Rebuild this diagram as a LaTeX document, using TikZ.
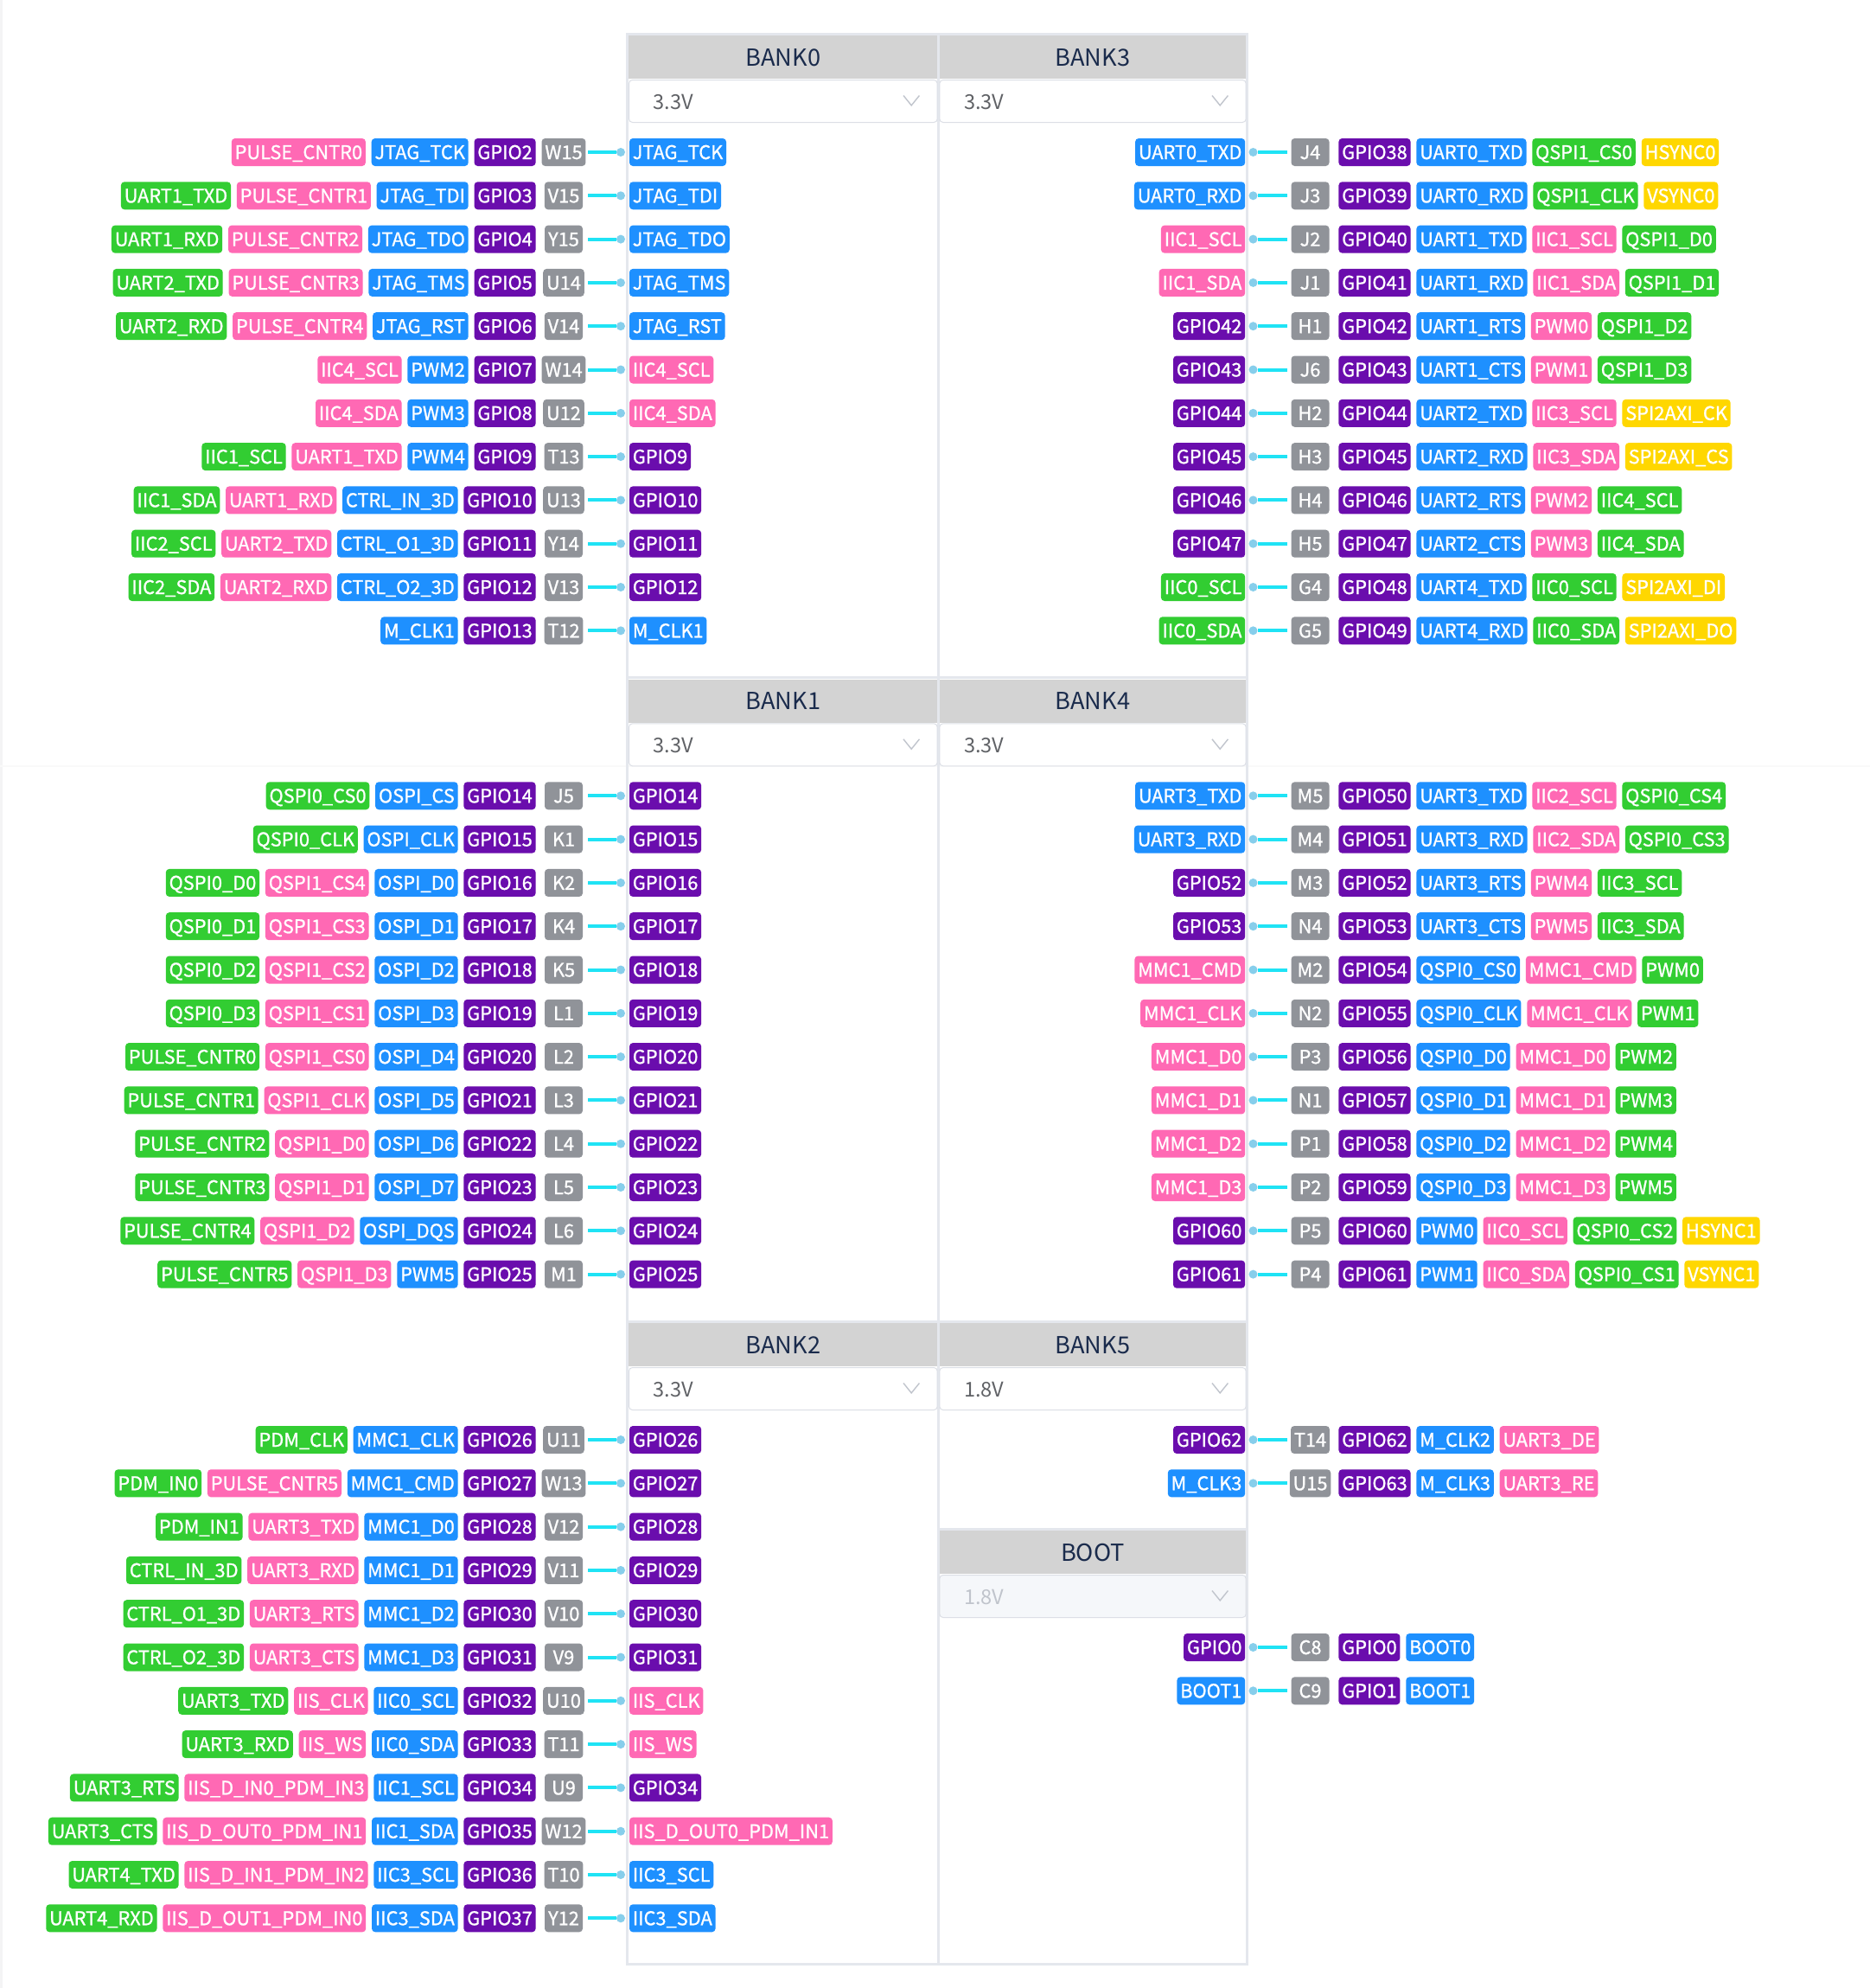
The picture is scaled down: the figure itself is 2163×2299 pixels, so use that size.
\documentclass[tikz,border=0pt]{standalone}
\usepackage{fontspec}
\setmainfont{Noto Sans CJK SC}
\newfontfamily\tagfont{Noto Sans CJK SC}[FakeBold=1]
\usetikzlibrary{positioning}

\definecolor{cblue}{HTML}{1E90FF}
\definecolor{cpink}{HTML}{FF69B4}
\definecolor{cgreen}{HTML}{32CD32}
\definecolor{cvio}{HTML}{6A0DAD}
\definecolor{cgray}{HTML}{909399}
\definecolor{cyel}{HTML}{FFD700}
\definecolor{cwire}{HTML}{1FE3F5}
\definecolor{cdot}{HTML}{87CEEB}
\definecolor{cframe}{HTML}{E4E7ED}
\definecolor{chead}{HTML}{D3D3D3}
\definecolor{cnavy}{HTML}{1A2B4C}
\definecolor{cborder}{HTML}{DCDFE6}
\definecolor{cvolt}{HTML}{606266}
\definecolor{cchev}{HTML}{C0C4CC}
\definecolor{cdis}{HTML}{F5F7FA}
\definecolor{cstrip}{HTML}{F4F4F5}
\definecolor{cfaint}{HTML}{F9F9F9}

\tikzset{
  tag/.style={fill=#1, text=white, rounded corners=2pt, font=\tagfont\fontsize{10.9}{13}\selectfont,
    inner xsep=1.9pt, inner ysep=0pt, text height=8pt, text depth=0pt, minimum height=16pt},
  pinbox/.style={tag=cgray, minimum width=22pt},
  dot/.style={circle, fill=cdot, inner sep=0pt, minimum size=5pt},
  wire/.style={cwire, line width=2pt},
  bankhd/.style={fill=chead, text=cnavy, font=\fontsize{13.6}{16}\selectfont, anchor=north west,
    minimum height=25pt, inner sep=0pt},
  volt/.style={draw=cborder, line width=.5pt, fill=white, rounded corners=2pt, anchor=north west,
    minimum height=24.5pt, inner sep=0pt},
  volttxt/.style={text=cvolt, font=\fontsize{11.8}{14}\selectfont, anchor=base west, inner sep=0pt},
  dis/.style={fill=cdis, text=cchev},
  chev/.style={cchev, line width=.7pt},
  frame/.style={cframe, line width=1.5pt}
}

% header + voltage box of one bank
\newcommand{\bankhead}[7][]{%
  \node[bankhd, minimum width=#5] (#2) at (#3,#4) {#6};
  \node[volt, minimum width=#5, #1] (#2v) at (#3,#4+51) {};
  \node[volttxt, #1] (#2t) at (#3+28.3,#4+85) {#7};
  \draw[chev] (#2v.east) ++(-39.7,-6.5) -- ++(9.2,11.4) -- ++(9.2,-11.4);
}
% pin row on the left side
\newcommand{\lrow}[7]{%
  \node[pinbox] (#1p) at (652,#2) {#3};
  \node[tag=cvio, anchor=east] (#1-0) at (620,#2) {#4};
  \foreach \col/\lbl [count=\i, remember=\i as \j (initially 0)] in {#7}
    {\node[tag=\col, left=3pt of #1-\j] (#1-\i) {\lbl};}
  \node[tag=#5, anchor=west] (#1i) at (727.6,#2) {#6};
  \node[dot] (#1d) at (718,#2) {};
  \coordinate (#1e) at (680,#2);
  \draw[wire] (#1e) -- (#1d);
}
% pin row on the right side
\newcommand{\rrow}[7]{%
  \node[tag=#5, anchor=east] (#1i) at (1440.6,#2) {#6};
  \node[dot] (#1d) at (1449.5,#2) {};
  \coordinate (#1e) at (1489,#2);
  \draw[wire] (#1d) -- (#1e);
  \node[pinbox] (#1p) at (1515.5,#2) {#3};
  \node[tag=cvio, anchor=west] (#1-0) at (1548,#2) {#4};
  \foreach \col/\lbl [count=\i, remember=\i as \j (initially 0)] in {#7}
    {\node[tag=\col, right=3pt of #1-\j] (#1-\i) {\lbl};}
}

\begin{document}
\begin{tikzpicture}[x=0.5pt, y=-0.5pt]
\useasboundingbox (0,0) rectangle (2163,2299);
\fill[white] (0,0) rectangle (2163,2299);
\fill[cstrip] (0,0) rectangle (3,2299);
\draw[cfaint, line width=.75pt] (0,886) -- (2163,886);
% frame
\draw[frame] (725.5,39.5) rectangle (1442.2,2271.3);
\draw[frame] (1085,39.5) -- (1085,2271.3);
\draw[frame] (725.5,783.5) -- (1442.2,783.5);
\draw[frame] (725.5,1528.5) -- (1442.2,1528.5);
\draw[frame] (1085,1768.5) -- (1442.2,1768.5);
% banks
\bankhead{bank0}{727}{41}{178.35pt}{BANK0}{3.3V}
\bankhead{bank3}{1086.3}{41}{177.2pt}{BANK3}{3.3V}
\bankhead{bank1}{727}{785.3}{178.35pt}{BANK1}{3.3V}
\bankhead{bank4}{1086.3}{785.3}{177.2pt}{BANK4}{3.3V}
\bankhead{bank2}{727}{1530}{178.35pt}{BANK2}{3.3V}
\bankhead{bank5}{1086.3}{1530}{177.2pt}{BANK5}{1.8V}
\bankhead[dis]{boot}{1086.3}{1770}{177.2pt}{BOOT}{1.8V}
% BANK0
\lrow{g2}{176}{W15}{GPIO2}{cblue}{JTAG\_TCK}{cblue/JTAG\_TCK, cpink/PULSE\_CNTR0}
\lrow{g3}{226.3}{V15}{GPIO3}{cblue}{JTAG\_TDI}{cblue/JTAG\_TDI, cpink/PULSE\_CNTR1, cgreen/UART1\_TXD}
\lrow{g4}{276.6}{Y15}{GPIO4}{cblue}{JTAG\_TDO}{cblue/JTAG\_TDO, cpink/PULSE\_CNTR2, cgreen/UART1\_RXD}
\lrow{g5}{326.9}{U14}{GPIO5}{cblue}{JTAG\_TMS}{cblue/JTAG\_TMS, cpink/PULSE\_CNTR3, cgreen/UART2\_TXD}
\lrow{g6}{377.2}{V14}{GPIO6}{cblue}{JTAG\_RST}{cblue/JTAG\_RST, cpink/PULSE\_CNTR4, cgreen/UART2\_RXD}
\lrow{g7}{427.5}{W14}{GPIO7}{cpink}{IIC4\_SCL}{cblue/PWM2, cpink/IIC4\_SCL}
\lrow{g8}{477.8}{U12}{GPIO8}{cpink}{IIC4\_SDA}{cblue/PWM3, cpink/IIC4\_SDA}
\lrow{g9}{528.1}{T13}{GPIO9}{cvio}{GPIO9}{cblue/PWM4, cpink/UART1\_TXD, cgreen/IIC1\_SCL}
\lrow{g10}{578.4}{U13}{GPIO10}{cvio}{GPIO10}{cblue/CTRL\_IN\_3D, cpink/UART1\_RXD, cgreen/IIC1\_SDA}
\lrow{g11}{628.7}{Y14}{GPIO11}{cvio}{GPIO11}{cblue/CTRL\_O1\_3D, cpink/UART2\_TXD, cgreen/IIC2\_SCL}
\lrow{g12}{679}{V13}{GPIO12}{cvio}{GPIO12}{cblue/CTRL\_O2\_3D, cpink/UART2\_RXD, cgreen/IIC2\_SDA}
\lrow{g13}{729.3}{T12}{GPIO13}{cblue}{M\_CLK1}{cblue/M\_CLK1}
% BANK1
\lrow{g14}{920.3}{J5}{GPIO14}{cvio}{GPIO14}{cblue/OSPI\_CS, cgreen/QSPI0\_CS0}
\lrow{g15}{970.6}{K1}{GPIO15}{cvio}{GPIO15}{cblue/OSPI\_CLK, cgreen/QSPI0\_CLK}
\lrow{g16}{1020.9}{K2}{GPIO16}{cvio}{GPIO16}{cblue/OSPI\_D0, cpink/QSPI1\_CS4, cgreen/QSPI0\_D0}
\lrow{g17}{1071.2}{K4}{GPIO17}{cvio}{GPIO17}{cblue/OSPI\_D1, cpink/QSPI1\_CS3, cgreen/QSPI0\_D1}
\lrow{g18}{1121.5}{K5}{GPIO18}{cvio}{GPIO18}{cblue/OSPI\_D2, cpink/QSPI1\_CS2, cgreen/QSPI0\_D2}
\lrow{g19}{1171.8}{L1}{GPIO19}{cvio}{GPIO19}{cblue/OSPI\_D3, cpink/QSPI1\_CS1, cgreen/QSPI0\_D3}
\lrow{g20}{1222.1}{L2}{GPIO20}{cvio}{GPIO20}{cblue/OSPI\_D4, cpink/QSPI1\_CS0, cgreen/PULSE\_CNTR0}
\lrow{g21}{1272.4}{L3}{GPIO21}{cvio}{GPIO21}{cblue/OSPI\_D5, cpink/QSPI1\_CLK, cgreen/PULSE\_CNTR1}
\lrow{g22}{1322.7}{L4}{GPIO22}{cvio}{GPIO22}{cblue/OSPI\_D6, cpink/QSPI1\_D0, cgreen/PULSE\_CNTR2}
\lrow{g23}{1373}{L5}{GPIO23}{cvio}{GPIO23}{cblue/OSPI\_D7, cpink/QSPI1\_D1, cgreen/PULSE\_CNTR3}
\lrow{g24}{1423.3}{L6}{GPIO24}{cvio}{GPIO24}{cblue/OSPI\_DQS, cpink/QSPI1\_D2, cgreen/PULSE\_CNTR4}
\lrow{g25}{1473.6}{M1}{GPIO25}{cvio}{GPIO25}{cblue/PWM5, cpink/QSPI1\_D3, cgreen/PULSE\_CNTR5}
% BANK2
\lrow{g26}{1665}{U11}{GPIO26}{cvio}{GPIO26}{cblue/MMC1\_CLK, cgreen/PDM\_CLK}
\lrow{g27}{1715.3}{W13}{GPIO27}{cvio}{GPIO27}{cblue/MMC1\_CMD, cpink/PULSE\_CNTR5, cgreen/PDM\_IN0}
\lrow{g28}{1765.6}{V12}{GPIO28}{cvio}{GPIO28}{cblue/MMC1\_D0, cpink/UART3\_TXD, cgreen/PDM\_IN1}
\lrow{g29}{1815.9}{V11}{GPIO29}{cvio}{GPIO29}{cblue/MMC1\_D1, cpink/UART3\_RXD, cgreen/CTRL\_IN\_3D}
\lrow{g30}{1866.2}{V10}{GPIO30}{cvio}{GPIO30}{cblue/MMC1\_D2, cpink/UART3\_RTS, cgreen/CTRL\_O1\_3D}
\lrow{g31}{1916.5}{V9}{GPIO31}{cvio}{GPIO31}{cblue/MMC1\_D3, cpink/UART3\_CTS, cgreen/CTRL\_O2\_3D}
\lrow{g32}{1966.8}{U10}{GPIO32}{cpink}{IIS\_CLK}{cblue/IIC0\_SCL, cpink/IIS\_CLK, cgreen/UART3\_TXD}
\lrow{g33}{2017.1}{T11}{GPIO33}{cpink}{IIS\_WS}{cblue/IIC0\_SDA, cpink/IIS\_WS, cgreen/UART3\_RXD}
\lrow{g34}{2067.4}{U9}{GPIO34}{cvio}{GPIO34}{cblue/IIC1\_SCL, cpink/IIS\_D\_IN0\_PDM\_IN3, cgreen/UART3\_RTS}
\lrow{g35}{2117.7}{W12}{GPIO35}{cpink}{IIS\_D\_OUT0\_PDM\_IN1}{cblue/IIC1\_SDA, cpink/IIS\_D\_OUT0\_PDM\_IN1, cgreen/UART3\_CTS}
\lrow{g36}{2168}{T10}{GPIO36}{cblue}{IIC3\_SCL}{cblue/IIC3\_SCL, cpink/IIS\_D\_IN1\_PDM\_IN2, cgreen/UART4\_TXD}
\lrow{g37}{2218.3}{Y12}{GPIO37}{cblue}{IIC3\_SDA}{cblue/IIC3\_SDA, cpink/IIS\_D\_OUT1\_PDM\_IN0, cgreen/UART4\_RXD}
% BANK3
\rrow{g38}{176}{J4}{GPIO38}{cblue}{UART0\_TXD}{cblue/UART0\_TXD, cgreen/QSPI1\_CS0, cyel/HSYNC0}
\rrow{g39}{226.3}{J3}{GPIO39}{cblue}{UART0\_RXD}{cblue/UART0\_RXD, cgreen/QSPI1\_CLK, cyel/VSYNC0}
\rrow{g40}{276.6}{J2}{GPIO40}{cpink}{IIC1\_SCL}{cblue/UART1\_TXD, cpink/IIC1\_SCL, cgreen/QSPI1\_D0}
\rrow{g41}{326.9}{J1}{GPIO41}{cpink}{IIC1\_SDA}{cblue/UART1\_RXD, cpink/IIC1\_SDA, cgreen/QSPI1\_D1}
\rrow{g42}{377.2}{H1}{GPIO42}{cvio}{GPIO42}{cblue/UART1\_RTS, cpink/PWM0, cgreen/QSPI1\_D2}
\rrow{g43}{427.5}{J6}{GPIO43}{cvio}{GPIO43}{cblue/UART1\_CTS, cpink/PWM1, cgreen/QSPI1\_D3}
\rrow{g44}{477.8}{H2}{GPIO44}{cvio}{GPIO44}{cblue/UART2\_TXD, cpink/IIC3\_SCL, cyel/SPI2AXI\_CK}
\rrow{g45}{528.1}{H3}{GPIO45}{cvio}{GPIO45}{cblue/UART2\_RXD, cpink/IIC3\_SDA, cyel/SPI2AXI\_CS}
\rrow{g46}{578.4}{H4}{GPIO46}{cvio}{GPIO46}{cblue/UART2\_RTS, cpink/PWM2, cgreen/IIC4\_SCL}
\rrow{g47}{628.7}{H5}{GPIO47}{cvio}{GPIO47}{cblue/UART2\_CTS, cpink/PWM3, cgreen/IIC4\_SDA}
\rrow{g48}{679}{G4}{GPIO48}{cgreen}{IIC0\_SCL}{cblue/UART4\_TXD, cgreen/IIC0\_SCL, cyel/SPI2AXI\_DI}
\rrow{g49}{729.3}{G5}{GPIO49}{cgreen}{IIC0\_SDA}{cblue/UART4\_RXD, cgreen/IIC0\_SDA, cyel/SPI2AXI\_DO}
% BANK4
\rrow{g50}{920.3}{M5}{GPIO50}{cblue}{UART3\_TXD}{cblue/UART3\_TXD, cpink/IIC2\_SCL, cgreen/QSPI0\_CS4}
\rrow{g51}{970.6}{M4}{GPIO51}{cblue}{UART3\_RXD}{cblue/UART3\_RXD, cpink/IIC2\_SDA, cgreen/QSPI0\_CS3}
\rrow{g52}{1020.9}{M3}{GPIO52}{cvio}{GPIO52}{cblue/UART3\_RTS, cpink/PWM4, cgreen/IIC3\_SCL}
\rrow{g53}{1071.2}{N4}{GPIO53}{cvio}{GPIO53}{cblue/UART3\_CTS, cpink/PWM5, cgreen/IIC3\_SDA}
\rrow{g54}{1121.5}{M2}{GPIO54}{cpink}{MMC1\_CMD}{cblue/QSPI0\_CS0, cpink/MMC1\_CMD, cgreen/PWM0}
\rrow{g55}{1171.8}{N2}{GPIO55}{cpink}{MMC1\_CLK}{cblue/QSPI0\_CLK, cpink/MMC1\_CLK, cgreen/PWM1}
\rrow{g56}{1222.1}{P3}{GPIO56}{cpink}{MMC1\_D0}{cblue/QSPI0\_D0, cpink/MMC1\_D0, cgreen/PWM2}
\rrow{g57}{1272.4}{N1}{GPIO57}{cpink}{MMC1\_D1}{cblue/QSPI0\_D1, cpink/MMC1\_D1, cgreen/PWM3}
\rrow{g58}{1322.7}{P1}{GPIO58}{cpink}{MMC1\_D2}{cblue/QSPI0\_D2, cpink/MMC1\_D2, cgreen/PWM4}
\rrow{g59}{1373}{P2}{GPIO59}{cpink}{MMC1\_D3}{cblue/QSPI0\_D3, cpink/MMC1\_D3, cgreen/PWM5}
\rrow{g60}{1423.3}{P5}{GPIO60}{cvio}{GPIO60}{cblue/PWM0, cpink/IIC0\_SCL, cgreen/QSPI0\_CS2, cyel/HSYNC1}
\rrow{g61}{1473.6}{P4}{GPIO61}{cvio}{GPIO61}{cblue/PWM1, cpink/IIC0\_SDA, cgreen/QSPI0\_CS1, cyel/VSYNC1}
% BANK5
\rrow{g62}{1665}{T14}{GPIO62}{cvio}{GPIO62}{cblue/M\_CLK2, cpink/UART3\_DE}
\rrow{g63}{1715.3}{U15}{GPIO63}{cblue}{M\_CLK3}{cblue/M\_CLK3, cpink/UART3\_RE}
% BOOT
\rrow{g0}{1905}{C8}{GPIO0}{cvio}{GPIO0}{cblue/BOOT0}
\rrow{g1}{1955.3}{C9}{GPIO1}{cblue}{BOOT1}{cblue/BOOT1}
\end{tikzpicture}
\end{document}
